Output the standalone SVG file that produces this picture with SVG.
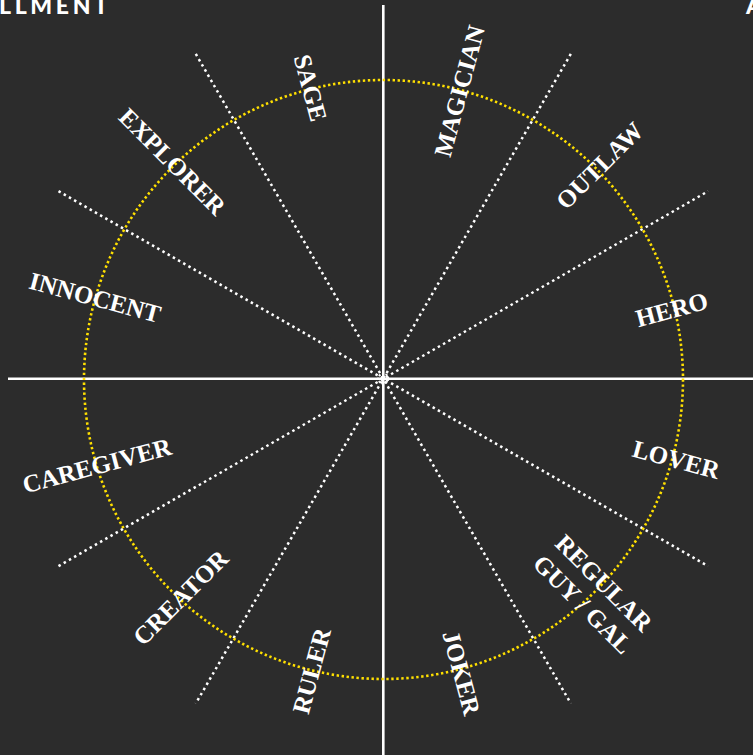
<svg xmlns="http://www.w3.org/2000/svg" width="753" height="755" viewBox="0 0 753 755">
<style>
.lbl{font-family:"Liberation Serif","Times New Roman",serif;font-weight:bold;font-size:25px;fill:#fff;text-anchor:middle}
.head{font-family:Lato,"Liberation Sans",sans-serif;font-weight:900;font-size:23px;fill:#fff}
.solid{stroke:#fff;stroke-width:2.6;fill:none}
.dots{stroke:#fff;stroke-width:2.5;stroke-dasharray:2.5 3.5;fill:none}
</style>
<rect width="753" height="755" fill="#2c2c2c"/>
<text class="head" x="-1" y="14" textLength="109" lengthAdjust="spacing">LLMENT</text>
<text class="head" x="746" y="14">A</text>
<g id="connectors">
<line class="solid" x1="383.3" y1="5" x2="383.3" y2="755"/>
<line class="solid" x1="8" y1="378.7" x2="753" y2="378.7"/>
<line class="dots" x1="195.8" y1="53.9" x2="570.8" y2="703.5"/>
<line class="dots" x1="570.8" y1="53.9" x2="195.8" y2="703.5"/>
<line class="dots" x1="58.5" y1="191.2" x2="708.1" y2="566.2"/>
<line class="dots" x1="58.5" y1="566.2" x2="708.1" y2="191.2"/>
<circle cx="383.5" cy="379.5" r="299.5" fill="none" stroke="#ffe000" stroke-width="2.6" stroke-dasharray="2.4 2.6"/>
<circle cx="383.3" cy="378.7" r="5" fill="none" stroke="#fff" stroke-width="2" stroke-dasharray="2 1.6"/>
</g>
<g id="sage"><text class="lbl" transform="translate(310,88) rotate(75)" y="8">SAGE</text></g>
<g id="magician"><text class="lbl" transform="translate(460,91) rotate(-75)" y="8">MAGICIAN</text></g>
<g id="explorer"><text class="lbl" transform="translate(172,162) rotate(45)" y="8">EXPLORER</text></g>
<g id="outlaw"><text class="lbl" transform="translate(600,166) rotate(-45)" y="8">OUTLAW</text></g>
<g id="innocent"><text class="lbl" transform="translate(95,298) rotate(15)" y="8">INNOCENT</text></g>
<g id="hero"><text class="lbl" transform="translate(672,310) rotate(-15)" y="8">HERO</text></g>
<g id="caregiver"><text class="lbl" transform="translate(97,466) rotate(-15)" y="8">CAREGIVER</text></g>
<g id="lover"><text class="lbl" transform="translate(676,460) rotate(15)" y="8">LOVER</text></g>
<g id="creator"><text class="lbl" transform="translate(181,598) rotate(-45)" y="8">CREATOR</text></g>
<g id="regular"><text class="lbl" transform="translate(593,594) rotate(45)"><tspan x="0" y="-7">REGULAR</tspan><tspan x="0" y="23">GUY / GAL</tspan></text></g>
<g id="ruler"><text class="lbl" transform="translate(312,671) rotate(-75)" y="8">RULER</text></g>
<g id="joker"><text class="lbl" transform="translate(461,673) rotate(75)" y="8">JOKER</text></g>
</svg>
